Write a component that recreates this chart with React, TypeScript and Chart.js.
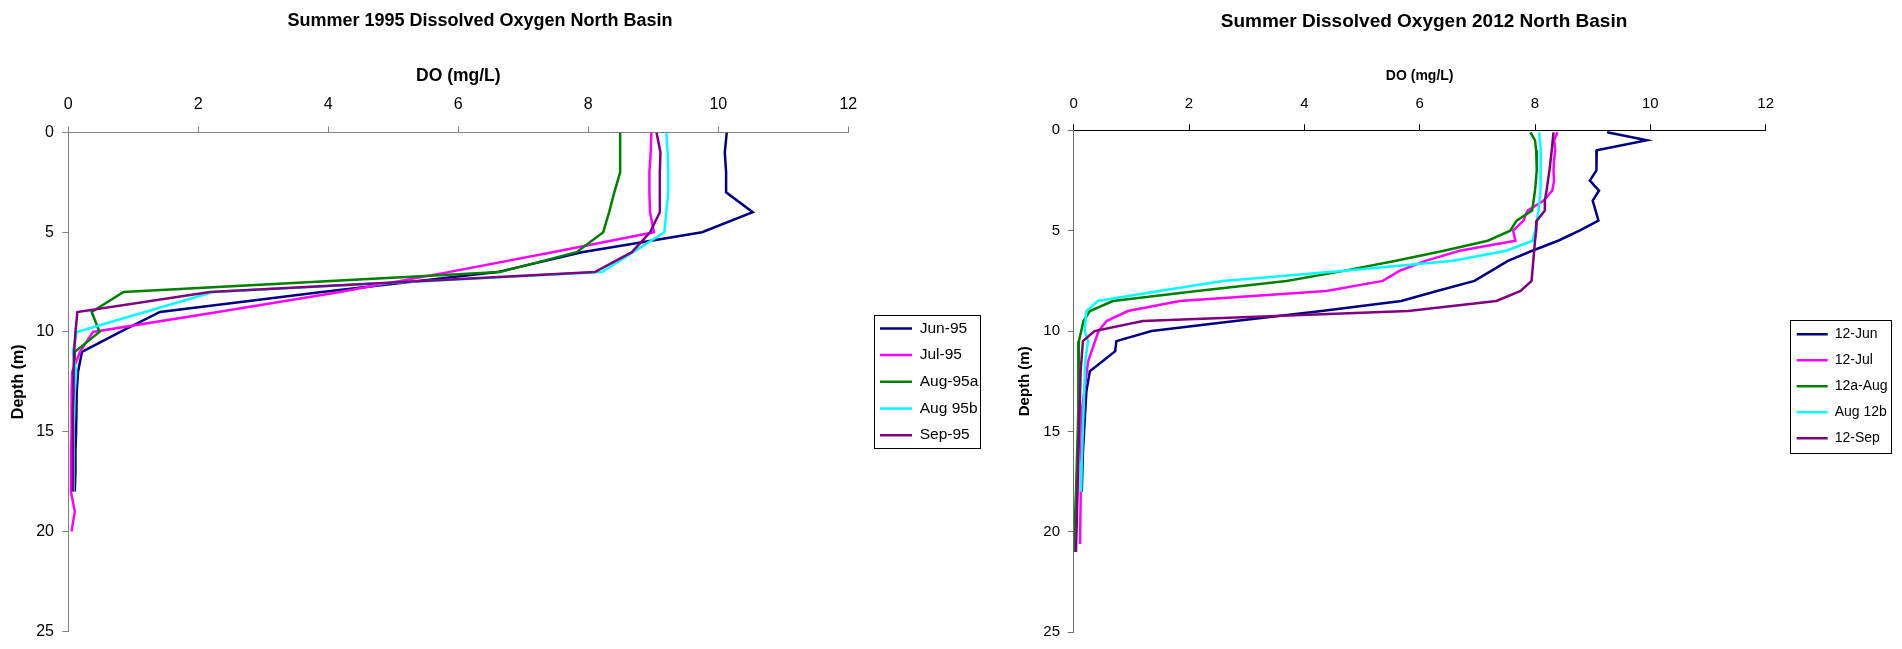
import React, { useEffect, useRef } from 'react';
import { Chart, registerables } from 'chart.js';

Chart.register(...registerables);

const FONT_FAMILY = '"Liberation Sans", Arial, Helvetica, sans-serif';
Chart.defaults.font.family = FONT_FAMILY;

// ---------------- data: 1995 (depth in m, DO in mg/L) ----------------
const labels1995 = ['Jun-95', 'Jul-95', 'Aug-95a', 'Aug 95b', 'Sep-95'];
const depth1995 = [0, 1, 2, 3, 4, 5, 6, 7, 8, 9, 10, 11, 12, 13, 14, 15, 16, 17, 18];
const depthJul95 = [0, 1, 2, 3, 4, 5, 6, 7, 8, 9, 10, 11, 12, 13, 14, 15, 16, 17, 18, 19, 20];
const doJun95 = [10.13, 10.1, 10.12, 10.12, 10.53, 9.75, 7.9, 6.6, 3.9, 1.41, 0.8, 0.21, 0.15, 0.13, 0.12, 0.12, 0.11, 0.11, 0.1];
const doJul95 = [8.97, 8.96, 8.94, 8.94, 8.95, 9.01, 7.45, 5.85, 4.18, 2.3, 0.38, 0.18, 0.06, 0.05, 0.05, 0.05, 0.04, 0.04, 0.04, 0.1, 0.05];
const doAug95a = [8.49, 8.49, 8.49, 8.4, 8.32, 8.23, 7.82, 6.64, 0.85, 0.36, 0.48, 0.1, 0.1, 0.09, 0.09, 0.08, 0.08, 0.08, 0.08];
const doAug95b = [9.2, 9.22, 9.23, 9.23, 9.2, 9.17, 8.69, 8.21, 2.23, 1.18, 0.13, 0.07, 0.12, 0.1, 0.09, 0.08, 0.08, 0.08, 0.08];
const doSep95 = [9.05, 9.11, 9.1, 9.1, 9.1, 8.95, 8.67, 8.1, 2.18, 0.14, 0.11, 0.09, 0.08, 0.08, 0.07, 0.07, 0.07, 0.07, 0.07];

// ---------------- data: 2012 ----------------
const labels2012 = ['12-Jun', '12-Jul', '12a-Aug', 'Aug 12b', '12-Sep'];
const depthJun12 = [0.1, 0.5, 1, 1.5, 2, 2.5, 3, 3.5, 4, 4.5, 5, 5.5, 6, 6.5, 7, 7.5, 8, 8.5, 9, 9.5, 10, 10.5, 11, 11.5, 12, 13, 14, 15, 16, 17, 18];
const doJun12 = [9.25, 9.94, 9.07, 9.07, 9.06, 8.95, 9.11, 9.0, 9.05, 9.1, 8.77, 8.4, 7.95, 7.53, 7.24, 6.95, 6.3, 5.68, 4.3, 2.8, 1.35, 0.74, 0.72, 0.5, 0.28, 0.22, 0.2, 0.18, 0.16, 0.15, 0.14];
const depthJul12 = [0.1, 0.5, 1, 1.5, 2, 2.5, 3, 3.5, 4, 4.5, 5, 5.5, 6, 6.5, 7, 7.5, 8, 8.5, 9, 9.5, 10, 11.5, 14, 20.6];
const doJul12 = [8.39, 8.33, 8.35, 8.33, 8.32, 8.33, 8.3, 8.15, 7.87, 7.8, 7.62, 7.66, 6.69, 6.1, 5.65, 5.36, 4.38, 1.84, 0.94, 0.57, 0.43, 0.25, 0.14, 0.11];
const depthAug12a = [0.1, 0.5, 1, 2, 3, 4, 4.5, 5, 5.5, 6, 6.5, 7, 7.5, 8, 8.5, 9, 9.5, 10, 10.5, 14, 18, 21];
const doAug12a = [7.92, 8.0, 8.02, 8.03, 8.0, 7.95, 7.68, 7.57, 7.18, 6.42, 5.59, 4.68, 3.69, 2.14, 0.68, 0.28, 0.17, 0.13, 0.09, 0.08, 0.04, 0.0];
const depthAug12b = [0.1, 1, 2, 3, 4, 5, 5.5, 6, 6.5, 7, 7.5, 8, 8.5, 9, 10, 10.5, 11.5, 16.5, 18];
const doAug12b = [8.07, 8.1, 8.1, 8.09, 8.06, 8.0, 7.96, 7.5, 6.58, 4.7, 2.59, 1.48, 0.42, 0.22, 0.19, 0.25, 0.2, 0.14, 0.13];
const depthSep12 = [0.1, 1, 2, 3, 3.5, 4, 4.5, 5, 5.5, 6.5, 7.5, 8, 8.5, 9, 9.5, 10, 10.5, 12, 21];
const doSep12 = [8.32, 8.29, 8.25, 8.2, 8.17, 8.17, 8.03, 8.02, 8.0, 7.97, 7.94, 7.75, 7.33, 5.8, 1.2, 0.36, 0.16, 0.12, 0.04];

// ---------------- axis ticks ----------------
const doMin = 0;
const doMax = 12;
const doStep = 2;
const depthMin = 0;
const depthMax = 25;
const depthStep = 5;

const COLORS = ['#000080', '#FF00FF', '#008000', '#00FFFF', '#800080'];

type Panel = {
  left: number;
  width: number;
  title: string;
  titleFont: number;
  titleCenter: number;
  padRight: number;
  padBottom: number;
  xAxisHeight: number;
  yAxisWidth: number;
  tickFont: number;
  xTickPad: number;
  yTickPad: number;
  xTitleFont: number;
  xTitlePad: number;
  yTitleFont: number;
  yTitlePad: number;
  legendFont: number;
  legendPad: number;
  legendLineW: number;
  legendLineX: number;
  legendDy: number;
  boxLeftPad: number;
  boxTopPad: number;
  boxBottomPad: number;
  boxWidth: number;
  xAxisColor: string;
  yAxisColor: string;
  labels: string[];
  depths: number[][];
  values: number[][];
};

function makeDatasets(labels: string[], depths: number[][], values: number[][]) {
  return labels.map((label, i) => ({
    label,
    data: depths[i].map((d, j) => ({ x: values[i][j], y: d })),
    borderColor: COLORS[i],
    backgroundColor: COLORS[i],
    borderWidth: 2.5,
    pointRadius: 0,
    pointHoverRadius: 0,
    pointBorderWidth: 2.5,
    pointBorderColor: COLORS[i],
    pointBackgroundColor: COLORS[i],
    pointStyle: 'line',
    showLine: true,
    fill: false,
    tension: 0,
    order: labels.length - i,
  }));
}

function panelPlugin(p: Panel) {
  return {
    id: 'panelLayout',
    afterLayout(chart: any) {
      const t = chart.titleBlock;
      if (t) {
        const dx = p.titleCenter - (t.left + t.right) / 2;
        t.left += dx;
        t.right += dx;
      }
      const lg = chart.legend;
      if (lg) {
        const pad = lg.options.labels.padding;
        const dx = p.legendLineX - (lg.left + pad);
        lg.left += dx;
        lg.right = lg.left + 170;
        lg.width = 170;
        lg.top += p.legendDy;
        lg.bottom += p.legendDy;
      }
    },
    afterDraw(chart: any) {
      const lg = chart.legend;
      const hb = lg && lg.legendHitBoxes;
      if (!hb || !hb.length) return;
      const ctx = chart.ctx;
      const fs = p.legendFont;
      const firstC = hb[0].top + fs / 2;
      const lastC = hb[hb.length - 1].top + fs / 2;
      const top = Math.round(firstC - p.boxTopPad) + 0.5;
      const bottom = Math.round(lastC + p.boxBottomPad) + 0.5;
      const left = Math.round(hb[0].left - p.boxLeftPad) + 0.5;
      ctx.save();
      ctx.strokeStyle = '#000000';
      ctx.lineWidth = 1;
      ctx.strokeRect(left, top, p.boxWidth, bottom - top);
      ctx.restore();
    },
  };
}

function makeConfig(p: Panel): any {
  return {
    type: 'scatter',
    data: { datasets: makeDatasets(p.labels, p.depths, p.values) },
    plugins: [panelPlugin(p)],
    options: {
      responsive: false,
      animation: false,
      devicePixelRatio: 1,
      events: [],
      layout: { padding: { left: 0, top: 0, right: p.padRight, bottom: p.padBottom } },
      plugins: {
        tooltip: { enabled: false },
        title: {
          display: true,
          text: p.title,
          color: '#000000',
          font: { size: p.titleFont, weight: 'bold', family: FONT_FAMILY },
          padding: { top: 10, bottom: 0 },
        },
        legend: {
          display: true,
          position: 'right',
          align: 'center',
          fullSize: false,
          maxWidth: 100,
          labels: {
            usePointStyle: true,
            pointStyle: 'line',
            pointStyleWidth: p.legendLineW,
            color: '#000000',
            font: { size: p.legendFont, family: FONT_FAMILY },
            padding: p.legendPad,
            sort: (a: any, b: any) => a.datasetIndex - b.datasetIndex,
          },
        },
      },
      scales: {
        x: {
          type: 'linear',
          position: 'top',
          min: doMin,
          max: doMax,
          ticks: {
            stepSize: doStep,
            color: '#000000',
            font: { size: p.tickFont, family: FONT_FAMILY },
            padding: p.xTickPad,
            maxRotation: 0,
          },
          grid: {
            display: true,
            drawOnChartArea: false,
            drawTicks: true,
            tickLength: 6,
            color: p.xAxisColor,
            lineWidth: 1,
          },
          border: { display: true, color: p.xAxisColor, width: 1 },
          title: {
            display: true,
            text: 'DO (mg/L)',
            color: '#000000',
            font: { size: p.xTitleFont, weight: 'bold', family: FONT_FAMILY },
            padding: { top: p.xTitlePad, bottom: 0 },
          },
          afterFit: (s: any) => {
            s.height = p.xAxisHeight;
          },
        },
        y: {
          type: 'linear',
          position: 'left',
          reverse: true,
          min: depthMin,
          max: depthMax,
          ticks: {
            stepSize: depthStep,
            color: '#000000',
            font: { size: p.tickFont, family: FONT_FAMILY },
            padding: p.yTickPad,
          },
          grid: {
            display: true,
            drawOnChartArea: false,
            drawTicks: true,
            tickLength: 6,
            color: p.yAxisColor,
            lineWidth: 1,
          },
          border: { display: true, color: p.yAxisColor, width: 1 },
          title: {
            display: true,
            text: 'Depth (m)',
            color: '#000000',
            font: { size: p.yTitleFont, weight: 'bold', family: FONT_FAMILY },
            padding: { top: p.yTitlePad, bottom: 0 },
          },
          afterFit: (s: any) => {
            s.width = p.yAxisWidth;
          },
        },
      },
    },
  };
}

const PANEL_1995: Panel = {
  left: 0,
  width: 990,
  title: 'Summer 1995 Dissolved Oxygen North Basin',
  titleFont: 18,
  titleCenter: 480,
  padRight: 41.7,
  padBottom: 10.7,
  xAxisHeight: 100.9,
  yAxisWidth: 68.3,
  tickFont: 16,
  xTickPad: 12.4,
  yTickPad: 8.3,
  xTitleFont: 17.5,
  xTitlePad: 34,
  yTitleFont: 16,
  yTitlePad: 9.4,
  legendFont: 15.5,
  legendPad: 11.2,
  legendLineW: 32,
  legendLineX: 880,
  legendDy: 0,
  boxLeftPad: 6,
  boxTopPad: 13.7,
  boxBottomPad: 12.7,
  boxWidth: 106,
  xAxisColor: '#808080',
  yAxisColor: '#808080',
  labels: labels1995,
  depths: [depth1995, depthJul95, depth1995, depth1995, depth1995],
  values: [doJun95, doJul95, doAug95a, doAug95b, doSep95],
};

const PANEL_2012: Panel = {
  left: 990,
  width: 912,
  title: 'Summer Dissolved Oxygen 2012 North Basin',
  titleFont: 19,
  titleCenter: 434,
  padRight: 36.3,
  padBottom: 10.3,
  xAxisHeight: 97.5,
  yAxisWidth: 83.7,
  tickFont: 15,
  xTickPad: 11.3,
  yTickPad: 7.7,
  xTitleFont: 14,
  xTitlePad: 35,
  yTitleFont: 15,
  yTitlePad: 26,
  legendFont: 14,
  legendPad: 12,
  legendLineW: 31,
  legendLineX: 806.7,
  legendDy: 5,
  boxLeftPad: 6.7,
  boxTopPad: 14,
  boxBottomPad: 15,
  boxWidth: 101,
  xAxisColor: '#000000',
  yAxisColor: '#6e6e6e',
  labels: labels2012,
  depths: [depthJun12, depthJul12, depthAug12a, depthAug12b, depthSep12],
  values: [doJun12, doJul12, doAug12a, doAug12b, doSep12],
};

function ProfileChart({ panel }: { panel: Panel }) {
  const ref = useRef<HTMLCanvasElement | null>(null);
  useEffect(() => {
    if (!ref.current) return;
    const chart = new Chart(ref.current, makeConfig(panel));
    return () => chart.destroy();
  }, [panel]);
  return (
    <canvas
      ref={ref}
      width={panel.width}
      height={649}
      style={{ position: 'absolute', left: panel.left, top: 0, width: panel.width, height: 649, display: 'block' }}
    />
  );
}

export default function App() {
  return (
    <div
      style={{
        position: 'fixed',
        left: 0,
        top: 0,
        width: 1902,
        height: 649,
        background: '#ffffff',
        overflow: 'hidden',
      }}
    >
      <ProfileChart panel={PANEL_1995} />
      <ProfileChart panel={PANEL_2012} />
    </div>
  );
}
